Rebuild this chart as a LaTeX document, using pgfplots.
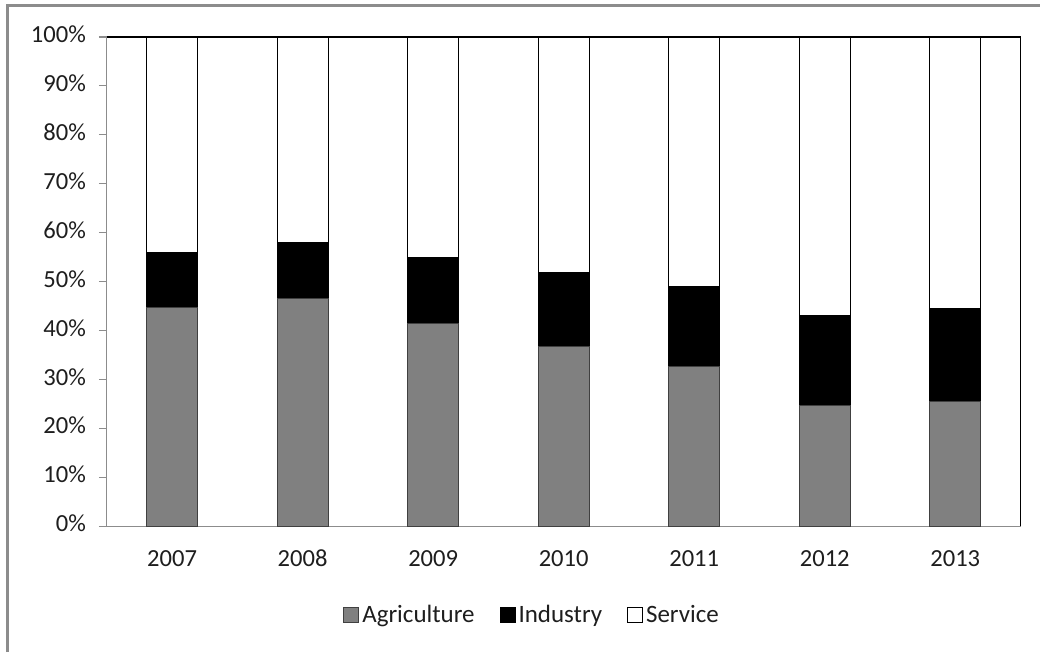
\documentclass[border=0pt]{standalone}
\usepackage{pgfplots}
\pgfplotsset{compat=1.18}
\usepackage{fontspec}
\setmainfont{Carlito}
\definecolor{agri}{RGB}{128,128,128}
\definecolor{frame}{RGB}{140,140,140}
\definecolor{txt}{RGB}{30,30,30}

\begin{document}
\begin{tikzpicture}
\begin{axis}[
    name=ax,
    at={(0,0)}, anchor=south west,
    scale only axis,
    width=457.5pt, height=245pt,
    ybar stacked,
    bar width=25.5pt,
    xmin=-0.5, xmax=6.5,
    ymin=0, ymax=100,
    axis x line*=bottom,
    axis y line*=left,
    axis line style={-, draw=frame, line width=0.6pt},
    xtick={0,...,6},
    xticklabels={2007,2008,2009,2010,2011,2012,2013},
    major x tick style={draw=none},
    extra x ticks={-0.5,0.5,1.5,2.5,3.5,4.5,5.5,6.5},
    extra x tick labels={},
    extra x tick style={major tick length=4pt, tick align=outside, tick style={draw=frame, line width=0.6pt}},
    ytick={0,10,...,100},
    yticklabels={0\%,10\%,20\%,30\%,40\%,50\%,60\%,70\%,80\%,90\%,100\%},
    major tick length=4pt,
    tick align=outside,
    y tick style={draw=frame, line width=0.6pt},
    typeset ticklabels with strut,
    tick label style={font=\fontsize{12.3}{14}\selectfont, text=txt},
    xticklabel style={yshift=-3pt},
    yticklabel style={xshift=-3pt},
    legend columns=-1,
    legend style={draw=none, fill=none, at={(0.466,-0.182)}, anchor=center,
        font=\fontsize{12.5}{14}\selectfont, text=txt,
        /tikz/every even column/.append style={column sep=11pt},
        nodes={inner xsep=1.5pt}},
    legend image code/.code={\draw[#1, line width=0.5pt] (0pt,-3.75pt) rectangle (7.5pt,3.75pt);},
]
\addplot[fill=agri, draw=black!75, line width=0.5pt] coordinates {(0,44.7) (1,46.5) (2,41.5) (3,36.7) (4,32.7) (5,24.7) (6,25.4)};
\addplot[fill=black, draw=black, line width=0.5pt] coordinates {(0,11.3) (1,11.4) (2,13.5) (3,15.1) (4,16.3) (5,18.4) (6,19.2)};
\addplot[fill=white, draw=black, line width=0.5pt] coordinates {(0,44.0) (1,42.1) (2,45.0) (3,48.2) (4,51.0) (5,56.9) (6,55.4)};
\legend{Agriculture,Industry,Service}
\end{axis}
\draw[black, line width=0.6pt] (ax.north west) -- (ax.north east) -- (ax.south east);
\draw[frame, line width=1.5pt] (-49.5pt,-63pt) -- (-49.5pt,260.5pt) -- (467pt,260.5pt);
\useasboundingbox (-53.5pt,-63pt) rectangle (467pt,263.5pt);
\end{tikzpicture}
\end{document}
